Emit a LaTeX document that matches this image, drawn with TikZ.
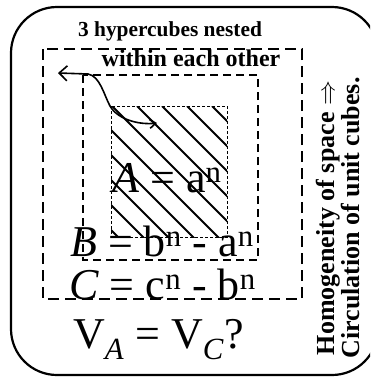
\documentclass[tikz,border=0pt]{standalone}
\usepackage{fontspec}
\setmainfont{Liberation Serif}
\usetikzlibrary{arrows.meta}
\tikzset{
  frame/.style={line width=2.2pt, rounded corners=46pt},
  cubeC/.style={line width=2pt, dash pattern=on 11pt off 6pt},
  cubeB/.style={line width=2pt, dash pattern=on 8pt off 5pt},
  cubeA/.style={line width=0.9pt, dash pattern=on 3pt off 2pt},
  hatch/.style={line width=1.8pt},
  eq/.style={anchor=base west, inner sep=0pt, font=\fontsize{44}{48}\selectfont},
  ttl/.style={anchor=base, inner sep=0pt},
}
\begin{document}
\begin{tikzpicture}[x=1pt,y=-1pt]
\useasboundingbox (0,0) rectangle (370,378);
\clip (0,0) rectangle (370,378);
\draw[frame] (11,7) rectangle (378,375);
% nested hypercubes
\draw[cubeC] (43,49) rectangle (302,299);
\draw[cubeB] (83,75) rectangle (258,260);
\begin{scope}
  \clip (111,106) rectangle (227,237);
  \foreach \i in {-7,...,4} \draw[hatch] (137+25*\i,106) -- ++(160,160);
\end{scope}
\draw[cubeA] (111,106) rectangle (227,237);
% titles
\node[ttl, font=\bfseries\fontsize{21.4}{24}\selectfont] (t1) at (170,36) {3 hypercubes nested};
\node[ttl, font=\bfseries\fontsize{24}{26}\selectfont] (t2) at (191,66) {within each other};
% arrow
\coordinate (p1) at (58,73);
\coordinate (p2) at (157,123);
\draw[line width=1.6pt, {Straight Barb[length=8pt,width=15pt]}-{Straight Barb[length=6pt,width=9pt]}]
  (p1) -- (88,74) .. controls (100,76) and (104,95) .. (110,106)
  .. controls (118,120) and (140,125) .. (p2);
% equations
\node[eq] (ea) at (112,192) {\textit{A} = a\textsuperscript{n}};
\node[eq] (eb) at (70,256) {\textit{B} = b\textsuperscript{n} - a\textsuperscript{n}};
\node[eq] (ec) at (69,299) {\textit{C} = c\textsuperscript{n} - b\textsuperscript{n}};
\node[eq] (ev) at (73,348) {V\textsubscript{\textit{A}} = V\textsubscript{\textit{C}}?};
% side text
\node[rotate=90, align=center, inner sep=0pt, font=\bfseries\fontsize{26}{24}\selectfont] (side) at (338,218)
  {Homogeneity of space $\Rightarrow$\\Circulation of unit cubes.};
\end{tikzpicture}
\end{document}
